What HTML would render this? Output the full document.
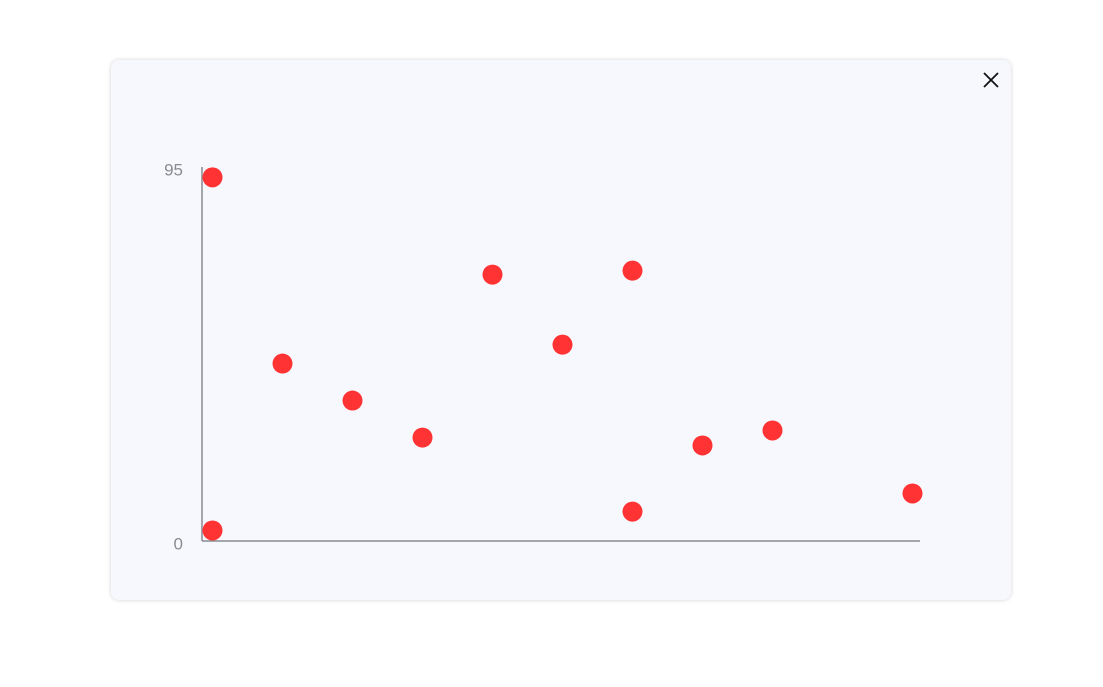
<!DOCTYPE html>
<html><head><meta charset="utf-8"><style>
body{margin:0;width:1103px;height:687px;background:#fff;font-family:"Liberation Sans",sans-serif;overflow:hidden}
.card{position:absolute;left:111px;top:60px;width:900px;height:540px;background:#f7f8fd;border-radius:8px;box-shadow:0 0 4px rgba(0,0,0,0.18)}
.close{position:absolute;left:980px;top:69px;width:22px;height:22px;cursor:pointer}
svg{position:absolute;left:0;top:0}
</style></head><body>
<div class="card"></div>
<svg width="1103" height="687">
<line x1="202" y1="167" x2="202" y2="541" stroke="#8a8a90" stroke-width="1.5"/>
<line x1="202" y1="541" x2="920" y2="541" stroke="#8a8a90" stroke-width="1.5"/>
<g id="ticks"></g>
<g id="pts"></g>
</svg>
<svg class="close" viewBox="0 0 22 22"><path d="M4 4L18 18M18 4L4 18" stroke="#111" stroke-width="1.8"/></svg>
<script>
const xValues=[0,0,1,2,3,4,5,6,6,7,8,10];
const yValues=[92.5,2.8,45.2,35.8,26.4,67.8,50,68.8,7.6,24.4,28.2,12.2];
const yTickValues=[0,95];
const yTickLabels=["0","95"];
const NS="http://www.w3.org/2000/svg";
function xs(v){return 212.5+v*70;}
function ys(v){return 541.5-v*(374/95);}
const tg=document.getElementById('ticks');
yTickValues.forEach((v,i)=>{
const t=document.createElementNS(NS,'text');
t.setAttribute('x',183);t.setAttribute('y',ys(v)+8);
t.setAttribute('text-anchor','end');t.setAttribute('font-size','17');t.setAttribute('fill','#8a8a90');
t.setAttribute('font-family','Liberation Sans, sans-serif');
t.textContent=yTickLabels[i];


tg.appendChild(t);});
const pg=document.getElementById('pts');
xValues.forEach((x,i)=>{
const c=document.createElementNS(NS,'circle');
c.setAttribute('cx',xs(x));c.setAttribute('cy',ys(yValues[i]));c.setAttribute('r',10);c.setAttribute('fill','#ff3333');


pg.appendChild(c);});
</script>
</body></html>
